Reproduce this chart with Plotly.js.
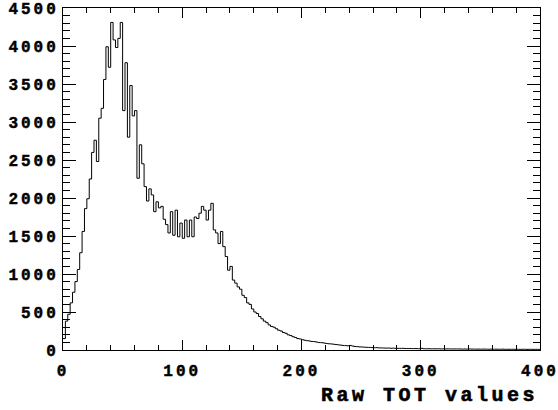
<!DOCTYPE html>
<html>
<head>
<meta charset="utf-8">
<script src="https://cdn.plot.ly/plotly-3.0.1.min.js"></script>
<style>
html, body { margin: 0; padding: 0; background: #fff; }
#chart { width: 558px; height: 410px; }
.xtick text, .ytick text { letter-spacing: 3px; stroke: #000; stroke-width: 0.45px; }
.annotation-text { letter-spacing: 3.5px; stroke: #000; stroke-width: 0.6px; }
</style>
</head>
<body>
<div id="chart"></div>
<script>
// Histogram of raw TOT values: bins of width 2 from 0 to 400
const binStart = 0;
const binWidth = 2;
const counts = [
  150, 380, 470, 620, 760, 900, 1060, 1280, 1560, 1860,
  1990, 2250, 2600, 2760, 2480, 3050, 3180, 3560, 3990, 3720,
  4310, 4080, 3980, 4100, 4310, 3150, 3780, 2800, 3480, 3080,
  3150, 2260, 2700, 2450, 2150, 1960, 2120, 2040, 1820, 1950,
  1870, 1890, 1720, 1650, 1540, 1820, 1510, 1840, 1490, 1670,
  1470, 1710, 1490, 1710, 1490, 1750, 1730, 1800, 1890, 1840,
  1710, 1840, 1930, 1580, 1540, 1400, 1560, 1360, 1230, 1050,
  1100, 920, 880, 830, 800, 720, 690, 620, 600, 540,
  500, 480, 440, 410, 380, 360, 330, 310, 300, 280,
  260, 250, 230, 220, 200, 190, 175, 165, 150, 145,
  135, 128, 122, 118, 112, 110, 104, 98, 96, 92,
  86, 82, 80, 76, 72, 68, 64, 60, 58, 55,
  60, 52, 46, 44, 40, 40, 37, 35, 34, 32,
  30, 31, 28, 27, 26, 25, 26, 23, 24, 22,
  22, 21, 22, 20, 19, 20, 18, 19, 18, 17,
  22, 17, 16, 17, 15, 16, 15, 16, 14, 15,
  14, 15, 14, 13, 14, 13, 14, 12, 13, 12,
  13, 12, 12, 11, 12, 11, 12, 11, 10, 11,
  10, 11, 10, 10, 11, 9, 10, 9, 10, 9,
  10, 9, 9, 10, 8, 9, 9, 8, 9, 8
];
const xTickVals = [0, 100, 200, 300, 400];
const yTickVals = [0, 500, 1000, 1500, 2000, 2500, 3000, 3500, 4000, 4500];
const xTitle = 'Raw TOT values';

// step outline: left edge of each bin, plus the final right edge
const xs = counts.map((_, i) => binStart + i * binWidth);
xs.push(binStart + counts.length * binWidth);
const ys = counts.slice();
ys.push(counts[counts.length - 1]);

const tickFont = { family: 'Liberation Mono, Courier New, monospace', size: 16, color: '#000', weight: 'bold' };

const trace = {
  type: 'scatter', mode: 'lines', x: xs, y: ys,
  line: { shape: 'hv', color: '#000', width: 1 },
  hoverinfo: 'skip'
};

const layout = {
  width: 558, height: 410,
  margin: { l: 63, r: 18, t: 8, b: 60, pad: 0 },
  paper_bgcolor: '#fff', plot_bgcolor: '#fff',
  showlegend: false,
  xaxis: {
    range: [0, 400], tickvals: xTickVals, ticktext: xTickVals.map(String),
    ticks: 'inside', ticklen: 10, tickwidth: 1, tickcolor: '#000',
    minor: { dtick: 20, ticks: 'inside', ticklen: 5, tickcolor: '#000', showgrid: false },
    showline: true, linecolor: '#000', linewidth: 1, mirror: 'ticks',
    showgrid: false, zeroline: false, ticklabeloverflow: 'allow',
    ticklabelstandoff: 6,
    tickfont: tickFont
  },
  yaxis: {
    range: [0, 4500], tickvals: yTickVals, ticktext: yTickVals.map(String),
    ticks: 'inside', ticklen: 13, tickwidth: 1, tickcolor: '#000',
    minor: { dtick: 100, ticks: 'inside', ticklen: 7, tickcolor: '#000', showgrid: false },
    showline: true, linecolor: '#000', linewidth: 1, mirror: 'ticks',
    showgrid: false, zeroline: false, ticklabeloverflow: 'allow',
    tickfont: tickFont
  },
  annotations: [{
    xref: 'paper', yref: 'paper', x: 1.0, y: -0.095,
    xanchor: 'right', yanchor: 'top', showarrow: false,
    text: xTitle,
    font: { family: 'Liberation Mono, Courier New, monospace', size: 20, color: '#000', weight: 'bold' }
  }]
};

Plotly.newPlot('chart', [trace], layout, { staticPlot: true, displayModeBar: false });
</script>
</body>
</html>
